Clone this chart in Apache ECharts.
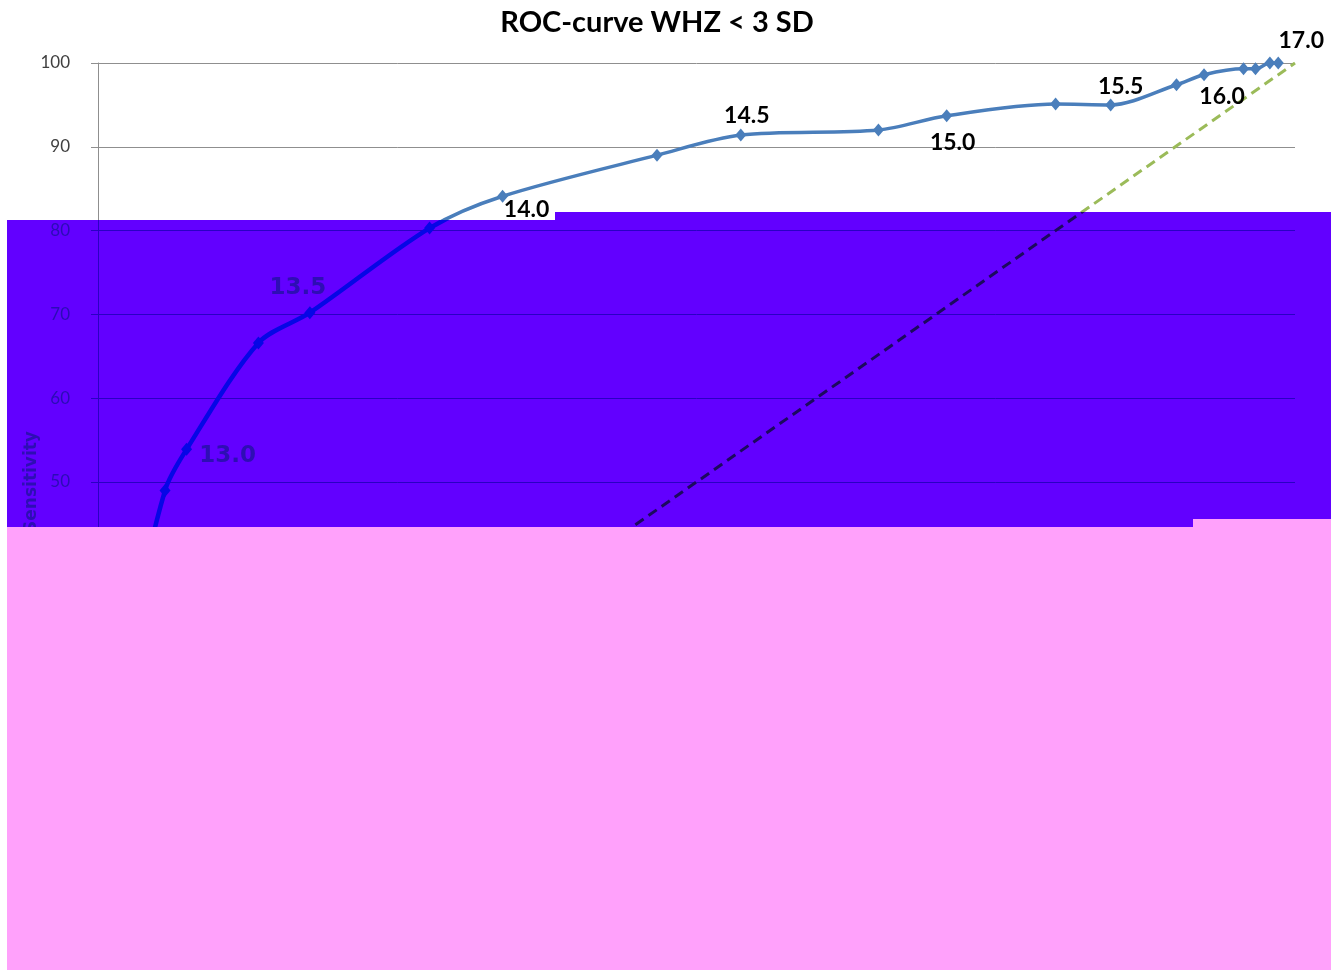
<!DOCTYPE html>
<html>
<head>
<meta charset="utf-8">
<script src="https://cdn.jsdelivr.net/npm/echarts@6/dist/echarts.min.js"></script>
<style>
html, body { margin: 0; padding: 0; background: #ffffff; }
.layer { position: absolute; left: 0; top: 0; width: 1338px; height: 971px; }
#purple { clip-path: polygon(7px 220px, 555px 220px, 555px 212px, 1331px 212px, 1331px 519px, 1193px 519px, 1193px 527px, 7px 527px); }
#pink { background: #ffa1fb; clip-path: polygon(7px 527px, 1193px 527px, 1193px 519px, 1331px 519px, 1331px 970px, 7px 970px); }
</style>
</head>
<body>
<div id="base" class="layer"></div>
<div id="purple" class="layer"></div>
<div id="pink" class="layer"></div>
<script>
// ---- data ----
const chartTitle = 'ROC-curve WHZ < 3 SD';
const yAxisName = 'Sensitivity';
const xAxisName = '1 - Specificity';
const cutoffs = ['11.0','11.25','11.5','11.75','12.0','12.25','12.5','12.75','13.0','13.25','13.5','13.75','14.0','14.25','14.5','14.75','15.0','15.25','15.5','15.75','16.0','16.25','16.5','16.75','17.0'];
const oneMinusSpecificity = [0, 0.25, 0.3, 0.8, 1.0, 1.6, 2.5, 5.6, 7.4, 13.4, 17.7, 27.7, 33.8, 46.7, 53.7, 65.2, 70.9, 80.0, 84.6, 90.1, 92.4, 95.7, 96.7, 97.9, 98.6];
const sensitivity        = [0, 1.4, 2.0, 6.8, 8.6, 20.5, 30.0, 49.0, 53.9, 66.6, 70.2, 80.3, 84.1, 89.0, 91.4, 92.0, 93.7, 95.1, 95.0, 97.4, 98.6, 99.3, 99.3, 100, 100];
const shownLabels = ['13.0','13.5','14.0','14.5','15.0','15.5','16.0','17.0'];
const referenceX = [0, 100];
const referenceY = [0, 100];

// ---- styling (not data) ----
const labelOffsets = {
  '13.0': [41, 7], '13.5': [-12, -25], '14.0': [24, 13], '14.5': [6, -19],
  '15.0': [6, 27], '15.5': [10, -18], '16.0': [18, 22], '17.0': [23, -22]
};

const themes = {
  base: { bg: '#ffffff', title: '#000000', tick: '#404040', grid: '#8f8f8f', curve: '#4a7ebb',
          curveWidth: 3.5, diag: '#9bbb59', label: '#000000', labelFont: 'Lato', name: '#000000', nameFont: 'Lato' },
  purple: { bg: '#6200ff', title: '#2a10b0', tick: '#2c0cb6', grid: '#2a00c4', curve: '#0606e6',
          curveWidth: 4.5, diag: '#1c0a5e', label: '#2e0eb4', labelFont: 'DejaVu Sans', name: '#2e0eb4', nameFont: 'DejaVu Sans' }
};

function buildOption(t) {
  const rocData = cutoffs.map((c, i) => {
    const item = { value: [oneMinusSpecificity[i], sensitivity[i]] };
    if (shownLabels.includes(c)) {
      item.label = { show: true, formatter: c, position: 'inside', offset: labelOffsets[c] };
    }
    return item;
  });
  return {
    animation: false,
    backgroundColor: t.bg,
    title: {
      text: chartTitle, left: 652, textAlign: 'center', top: 3,
      textStyle: { fontFamily: 'Lato', fontWeight: 'bold', fontSize: 29, color: t.title }
    },
    grid: { left: 98, right: 43, top: 63, bottom: 70, containLabel: false },
    xAxis: {
      type: 'value', min: 0, max: 100, interval: 10,
      name: xAxisName, nameLocation: 'middle', nameGap: 40, nameMoveOverlap: false,
      nameTextStyle: { fontFamily: t.nameFont, fontWeight: 'bold', fontSize: 17, color: t.name },
      axisLine: { show: true, lineStyle: { color: t.grid, width: 1 } },
      axisTick: { show: true, length: 7, lineStyle: { color: t.grid } },
      axisLabel: { fontFamily: 'Lato', fontSize: 17, color: t.tick, margin: 12 },
      splitLine: { show: false }
    },
    yAxis: {
      type: 'value', min: 0, max: 100, interval: 10,
      name: yAxisName, nameLocation: 'middle', nameGap: 58, nameRotate: 90, nameMoveOverlap: false,
      nameTextStyle: { fontFamily: t.nameFont, fontWeight: 'bold', fontSize: 17, color: t.name },
      axisLine: { show: true, lineStyle: { color: t.grid, width: 1 } },
      axisTick: { show: true, length: 7, lineStyle: { color: t.grid } },
      axisLabel: { fontFamily: 'Lato', fontSize: 17, color: t.tick, margin: 28 },
      splitLine: { show: true, lineStyle: { color: t.grid, width: 1 } }
    },
    series: [
      {
        name: 'Reference', type: 'line', symbol: 'none',
        data: referenceX.map((x, i) => [x, referenceY[i]]),
        lineStyle: { color: t.diag, width: 3, type: [10, 6] },
        z: 2
      },
      {
        name: 'ROC', type: 'line', smooth: 0.3,
        symbol: 'diamond', symbolSize: [11, 13],
        itemStyle: { color: t.curve },
        lineStyle: { color: t.curve, width: t.curveWidth },
        label: {
          show: false, fontFamily: t.labelFont, fontWeight: 'bold', fontSize: 23, color: t.label,
          align: 'center', verticalAlign: 'middle'
        },
        data: rocData,
        z: 3
      }
    ]
  };
}

echarts.init(document.getElementById('base'), null, { renderer: 'canvas' }).setOption(buildOption(themes.base));
echarts.init(document.getElementById('purple'), null, { renderer: 'canvas' }).setOption(buildOption(themes.purple));
</script>
</body>
</html>
